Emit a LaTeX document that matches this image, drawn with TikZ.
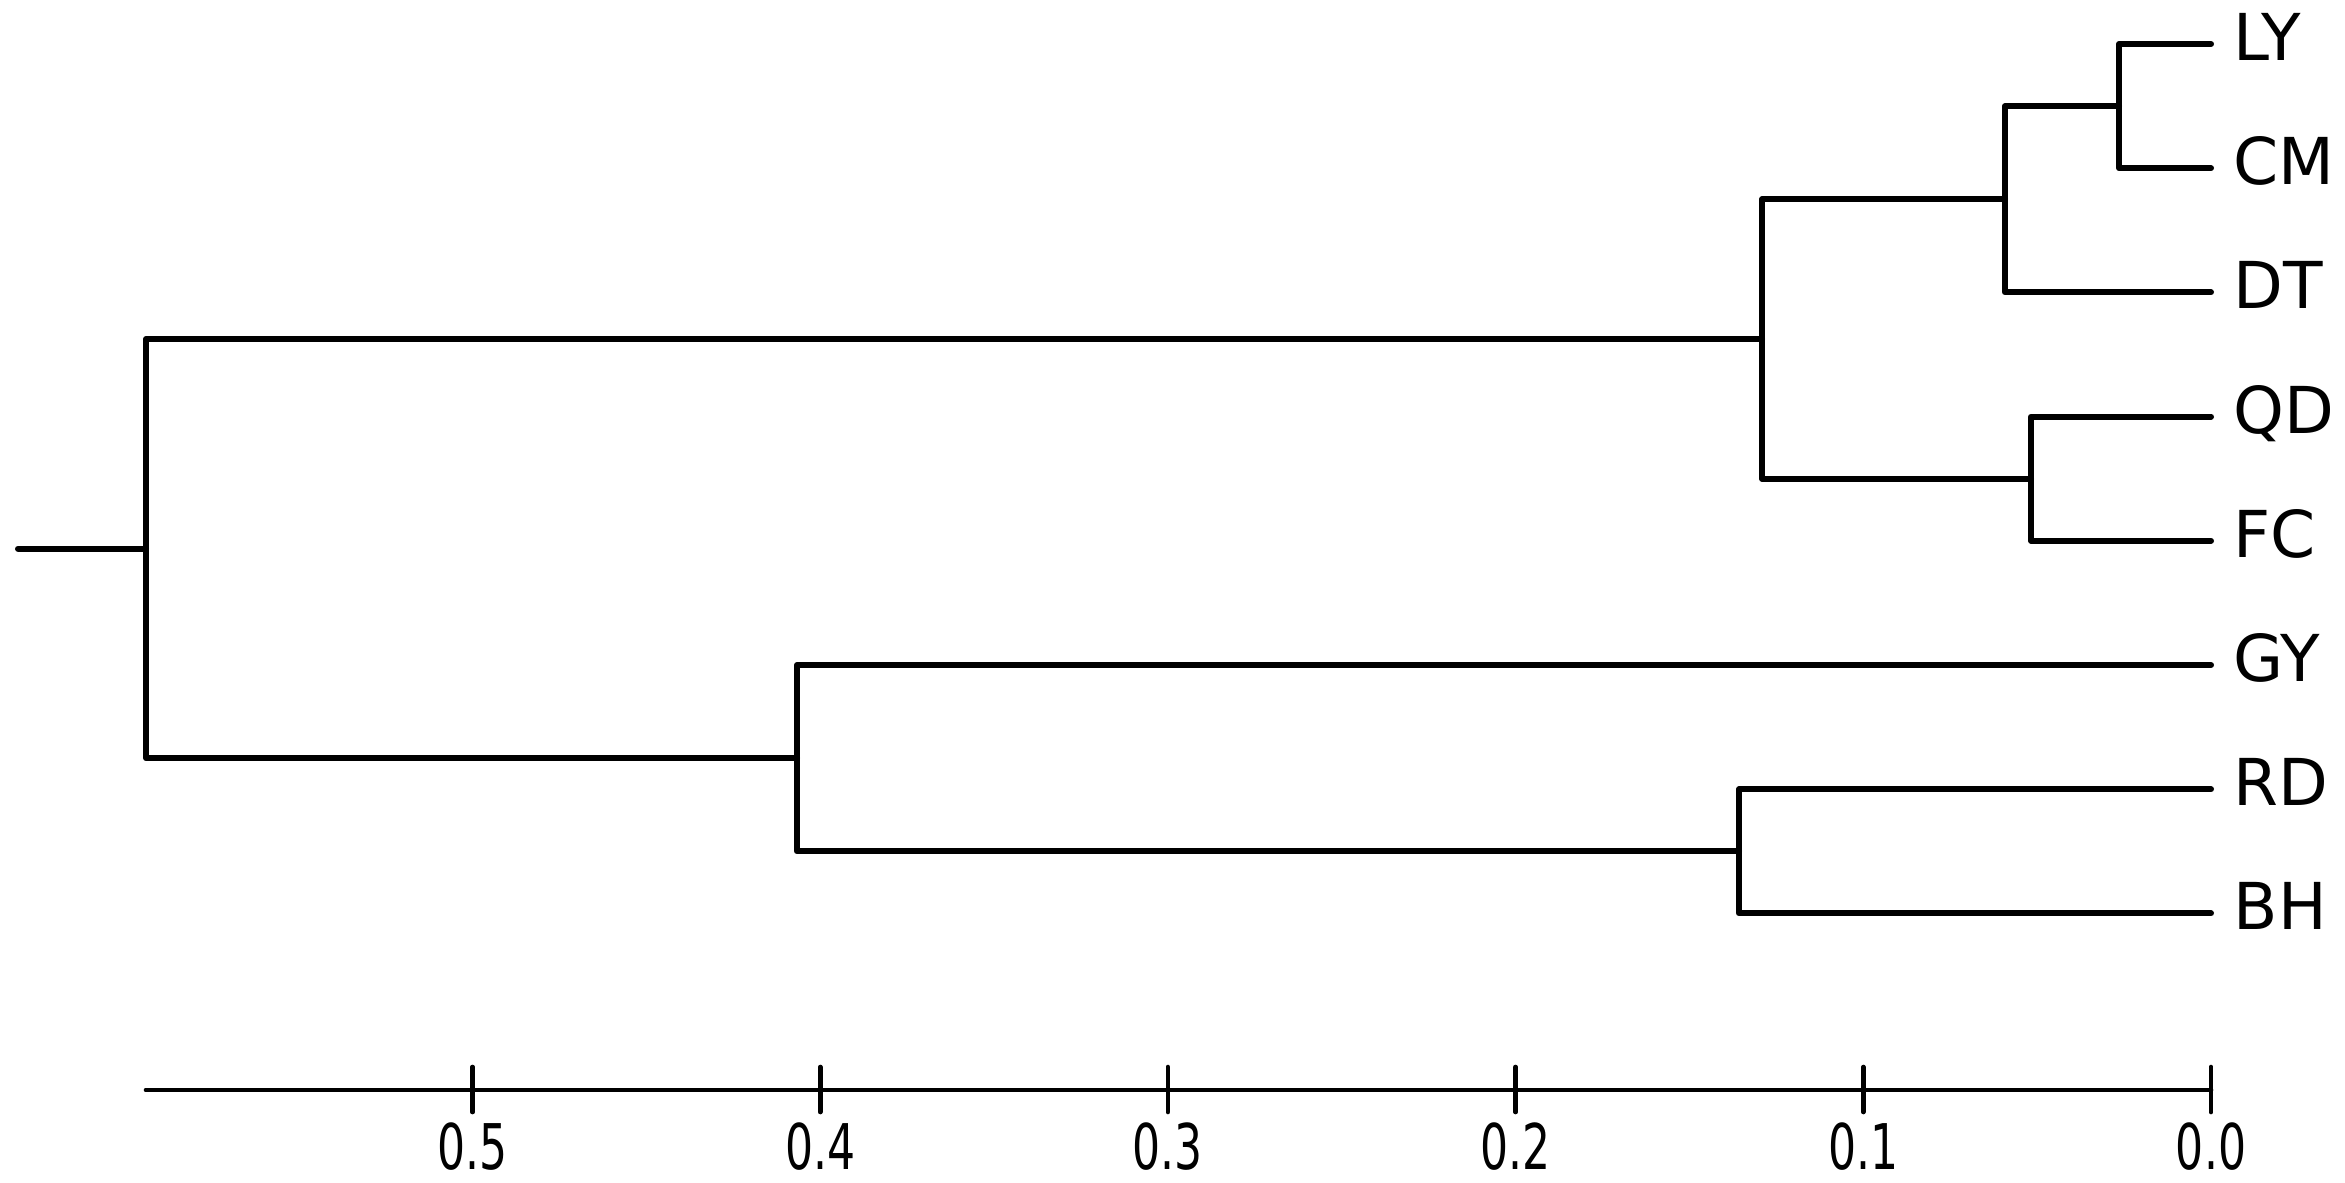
\documentclass[tikz,border=0pt]{standalone}
\usepackage{fontspec}
\setmainfont{DejaVu Sans}
\begin{document}
\begin{tikzpicture}[x=0.3pt,y=-0.3pt,
  branch/.style={line width=1.8pt, line cap=round, line join=round},
  axisline/.style={line width=1.4pt, line cap=round},
  leaflab/.style={anchor=west, inner sep=0pt, font=\fontsize{19.4pt}{20pt}\selectfont, text height=14.1pt, text depth=0pt},
  ticklab/.style={inner sep=0pt, font=\fontsize{18.9pt}{20pt}\selectfont, text height=13.8pt, text depth=0pt}]
\useasboundingbox (0,0) rectangle (2345,1182);
% leaves
\coordinate (LY) at (2211,44);
\coordinate (CM) at (2211,168.2);
\coordinate (DT) at (2211,292.4);
\coordinate (QD) at (2211,416.6);
\coordinate (FC) at (2211,540.8);
\coordinate (GY) at (2211,665);
\coordinate (RD) at (2211,789.2);
\coordinate (BH) at (2211,913.4);
% joins
\coordinate (j1) at (2119,106.1);
\coordinate (j2) at (2005,199.25);
\coordinate (j3) at (2031,478.7);
\coordinate (j4) at (1762,338.98);
\coordinate (j5) at (1739,851.3);
\coordinate (j6) at (797,758.15);
\coordinate (root) at (146,548.6);
\coordinate (stub) at (18,548.6);
% branches
\draw[branch] (LY) -| (j1) |- (CM);
\draw[branch] (j1) -| (j2) |- (DT);
\draw[branch] (QD) -| (j3) |- (FC);
\draw[branch] (j2) -| (j4) |- (j3);
\draw[branch] (RD) -| (j5) |- (BH);
\draw[branch] (GY) -| (j6) |- (j5);
\draw[branch] (j4) -| (root) |- (j6);
\draw[branch] (stub) -- (root);
% leaf labels
\foreach \n/\y in {LY/44,CM/168.2,DT/292.4,QD/416.6,FC/540.8,GY/665,RD/789.2,BH/913.4}{
  \node[leaflab] (t\n) at (2233,\y-7) {\n};
}
% axis
\coordinate (a0) at (146,1090);
\coordinate (a1) at (2211,1090);
\draw[axisline] (a0) -- (a1);
\foreach \k/\v/\x in {5/0.5/472.5,4/0.4/820.2,3/0.3/1167.9,2/0.2/1515.6,1/0.1/1863.3,0/0.0/2211}{
  \coordinate (tt\k) at (\x,1067);
  \coordinate (tb\k) at (\x,1112);
  \draw[axisline] (tt\k) -- (tb\k);
  \node[ticklab] (l\k) at (\x,1146) {\scalebox{0.7}[1]{\v}};
}
\end{tikzpicture}
\end{document}
